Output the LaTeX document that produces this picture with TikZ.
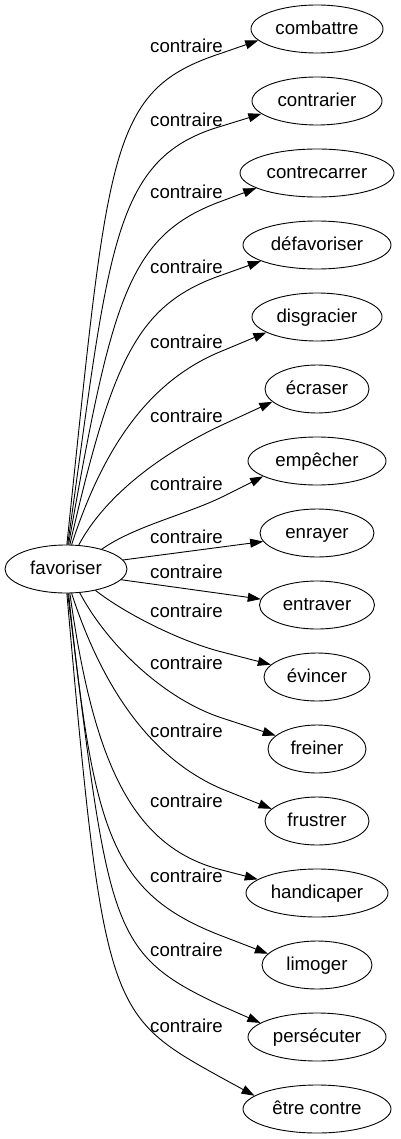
\documentclass[tikz,border=0pt]{standalone}
\usepackage{fontspec}
\setmainfont{Liberation Sans}
\usetikzlibrary{arrows.meta,shapes.geometric}
\begin{document}
\begin{tikzpicture}[x=1pt,y=-1pt,
  word/.style={draw, ellipse, inner sep=0pt, minimum height=48pt, line width=0.9pt,
    text height=14pt, text depth=3pt, font=\fontsize{18.67pt}{22pt}\selectfont},
  lab/.style={anchor=base, inner sep=0pt, font=\fontsize{18.67pt}{22pt}\selectfont},
  edge/.style={draw, line width=0.9pt, -{Triangle[length=13pt,width=9pt]}}]
\useasboundingbox (0,0) rectangle (400,1139);
\node[word, minimum width=122pt] (fav) at (66,569) {favoriser};
\node[word, minimum width=132pt] (t1) at (317,29) {combattre};
\node[word, minimum width=130pt] (t2) at (317,101) {contrarier};
\node[word, minimum width=154pt] (t3) at (317,173) {contrecarrer};
\node[word, minimum width=148pt] (t4) at (317,245) {défavoriser};
\node[word, minimum width=130pt] (t5) at (317,317) {disgracier};
\node[word, minimum width=104pt] (t6) at (317,389) {écraser};
\node[word, minimum width=138pt] (t7) at (317,461) {empêcher};
\node[word, minimum width=114pt] (t8) at (317,533) {enrayer};
\node[word, minimum width=115pt] (t9) at (317,605) {entraver};
\node[word, minimum width=106pt] (t10) at (317,677) {évincer};
\node[word, minimum width=98pt] (t11) at (317,749) {freiner};
\node[word, minimum width=104pt] (t12) at (317,821) {frustrer};
\node[word, minimum width=142pt] (t13) at (317,893) {handicaper};
\node[word, minimum width=110pt] (t14) at (317,965) {limoger};
\node[word, minimum width=138pt] (t15) at (317,1037) {persécuter};
\node[word, minimum width=148pt] (t16) at (317,1109) {être contre};
% waypoints
\coordinate (m1) at (222,53);
\coordinate (m2) at (222,126);
\coordinate (m3) at (222,201);
\coordinate (m4) at (222,275);
\coordinate (m5) at (222,351);
\coordinate (m6) at (222,425);
\coordinate (m7) at (222,497);
\coordinate (m10) at (222,652);
\coordinate (m11) at (222,718);
\coordinate (m12) at (222,789);
\coordinate (m13) at (222,870);
\coordinate (m14) at (222,936);
\coordinate (m15) at (222,1006);
\coordinate (m16) at (222,1078);
% edges
\path[edge] (fav.88) .. controls +(84:400pt) and +(198:120pt) .. (m1) -- (t1.191.5);
\path[edge] (fav.86) .. controls +(82:300pt) and +(196:115pt) .. (m2) -- (t2.193.8);
\path[edge] (fav.84) .. controls +(80:250pt) and +(200:100pt) .. (m3) -- (t3.194.5);
\path[edge] (fav.81) .. controls +(77:190pt) and +(199:90pt) .. (m4) -- (t4.196.6);
\path[edge] (fav.77) .. controls +(72:100pt) and +(202:80pt) .. (m5) -- (t5.197.7);
\path[edge] (fav.62) .. controls +(62:60pt) and +(205:60pt) .. (m6) -- (t6.196.6);
\path[edge] (fav.29) .. controls +(35:40pt) and +(206:40pt) .. (m7) -- (t7.196.5);
\path[edge] (fav.9) -- (t8.189.8);
\path[edge] (fav.-11) -- (t9.174.8);
\path[edge] (fav.-36) .. controls +(-38:40pt) and +(166:40pt) .. (m10) -- (t10.165.7);
\path[edge] (fav.-60) .. controls +(-62:60pt) and +(162:60pt) .. (m11) -- (t11.162);
\path[edge] (fav.-77) .. controls +(-72:110pt) and +(157:70pt) .. (m12) -- (t12.165);
\path[edge] (fav.-81) .. controls +(-82:166pt) and +(166:95pt) .. (m13) -- (t13.167);
\path[edge] (fav.-84) .. controls +(-84:240pt) and +(159:120pt) .. (m14) -- (t14.167);
\path[edge] (fav.-86) .. controls +(-83:340pt) and +(155:125pt) .. (m15) -- (t15.166.9);
\path[edge] (fav.-88) .. controls +(-85:420pt) and +(151:130pt) .. (m16) -- (t16.168);
% labels
\node[lab] (l1) at (186.5,53) {contraire};
\node[lab] (l2) at (186.5,126.5) {contraire};
\node[lab] (l3) at (186.5,199) {contraire};
\node[lab] (l4) at (186.5,273.5) {contraire};
\node[lab] (l5) at (186.5,348.5) {contraire};
\node[lab] (l6) at (186.5,422.5) {contraire};
\node[lab] (l7) at (186.5,490.5) {contraire};
\node[lab] (l8) at (186.5,543) {contraire};
\node[lab] (l9) at (186.5,578.5) {contraire};
\node[lab] (l10) at (186.5,617) {contraire};
\node[lab] (l11) at (186.5,669.5) {contraire};
\node[lab] (l12) at (186.5,737) {contraire};
\node[lab] (l13) at (186.5,807.5) {contraire};
\node[lab] (l14) at (186.5,882.5) {contraire};
\node[lab] (l15) at (186.5,956.5) {contraire};
\node[lab] (l16) at (186.5,1032) {contraire};
\end{tikzpicture}
\end{document}
